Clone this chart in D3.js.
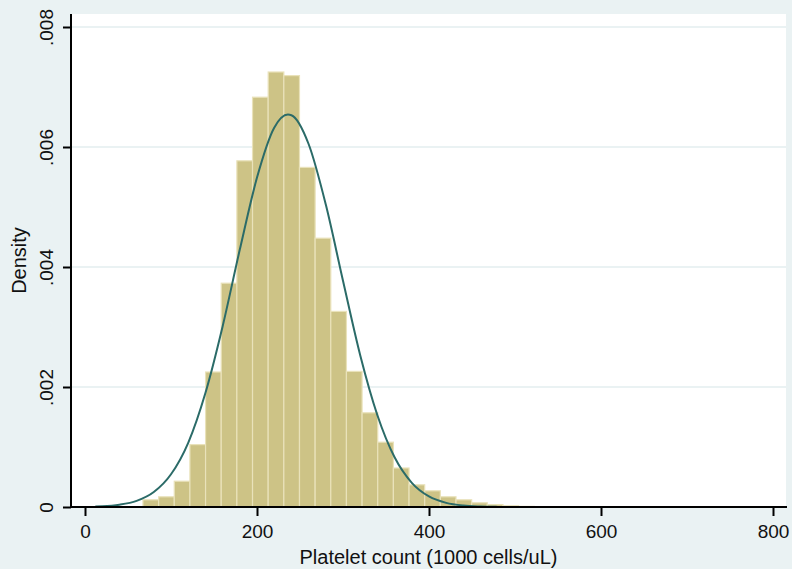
<!DOCTYPE html>
<html>
<head>
<meta charset="utf-8">
<script src="https://cdn.jsdelivr.net/npm/d3@7"></script>
<style>
  body { margin: 0; background: #eaf2f3; }
  text { font-family: "Liberation Sans", Arial, sans-serif; fill: #111; }
</style>
</head>
<body>
<div id="chart"></div>
<script>

// histogram bins (lower edge of first bin, width, density per bin)
var binStart = 67.4;
var binWidth = 18.2;
var densities = [0.00012, 0.00017, 0.00043, 0.00104, 0.00225, 0.00373, 0.00577,
    0.00683, 0.00725, 0.00719, 0.00566, 0.00448, 0.00326, 0.00226, 0.00157,
    0.00108, 0.00065, 0.00037, 0.00027, 0.00017, 0.00012, 0.00007, 0.00004,
    0.00002, 0.00001];

// normal overlay
var curveX = [12, 20, 40, 60, 80, 100, 120, 140, 160, 180, 200, 220, 236, 240, 260,
    280, 300, 320, 340, 360, 380, 400, 420, 440, 460, 480, 500, 600, 700, 800];
var curveY = [0.000008, 0.000012, 0.000038, 0.000102, 0.000249, 0.000545, 0.00107,
    0.00190, 0.00301, 0.00429, 0.00549, 0.00632, 0.00654, 0.00653, 0.00605,
    0.00504, 0.00377, 0.00253, 0.00153, 0.000828, 0.000403, 0.000176, 0.000069,
    0.000024, 0.000008, 0.000002, 0, 0, 0, 0];

var xTicks = [0, 200, 400, 600, 800];
var yTicks = [0, 0.002, 0.004, 0.006, 0.008];

var width = 792,
    height = 569;

var svg = d3.select("#chart")
    .append("svg")
    .attr("width", width)
    .attr("height", height);

svg.append("rect")
    .attr("width", width)
    .attr("height", height)
    .attr("fill", "#eaf2f3");

/* SCALES */
var x = d3.scaleLinear().domain([0, 800]).range([85, 773]);
var y = d3.scaleLinear().domain([0, 0.008]).range([507, 27]);

var plotL = 71, plotR = 786, plotT = 14, plotB = 507;

// plot region
svg.append("rect")
    .attr("x", plotL)
    .attr("y", plotT)
    .attr("width", plotR - plotL)
    .attr("height", plotB - plotT)
    .attr("fill", "#ffffff");

// gridlines
svg.append("g")
    .selectAll("line")
    .data(yTicks.slice(1))
    .enter()
    .append("line")
        .attr("x1", plotL)
        .attr("x2", plotR)
        .attr("y1", d => y(d))
        .attr("y2", d => y(d))
        .attr("stroke", "#eaf2f3")
        .attr("stroke-width", 2);

/* BARS */
var bins = densities.map((d, i) => ({
    x0: binStart + i * binWidth,
    x1: binStart + (i + 1) * binWidth,
    d: d
}));

svg.append("g")
    .selectAll("rect")
    .data(bins)
    .enter()
    .append("rect")
        .attr("x", d => x(d.x0))
        .attr("width", d => x(d.x1) - x(d.x0))
        .attr("y", d => y(d.d))
        .attr("height", d => y(0) - y(d.d))
        .attr("fill", "#cdc386")
        .attr("stroke", "#e9e2ba")
        .attr("stroke-width", 1.2);

/* NORMAL CURVE */
var line = d3.line()
    .x(d => x(d[0]))
    .y(d => y(d[1]))
    .curve(d3.curveMonotoneX);

svg.append("path")
    .datum(curveX.map((v, i) => [v, curveY[i]]))
    .attr("d", line)
    .attr("fill", "none")
    .attr("stroke", "#2b6b68")
    .attr("stroke-width", 2);

/* AXES */
var xAxis = svg.append("g")
    .attr("transform", `translate(0,${plotB})`)
    .call(d3.axisBottom(x).tickValues(xTicks).tickSize(9).tickSizeOuter(0).tickPadding(6));

xAxis.select(".domain").attr("d", `M${plotL},0H${plotR + 1}`).attr("stroke", "#000").attr("stroke-width", 2);
xAxis.selectAll(".tick line").attr("stroke", "#000").attr("stroke-width", 2);
xAxis.selectAll(".tick text")
    .attr("y", 31)
    .attr("dy", 0)
    .style("font-size", "19px");

var yAxis = svg.append("g")
    .attr("transform", `translate(${plotL},0)`)
    .call(d3.axisLeft(y).tickValues(yTicks).tickSize(8).tickSizeOuter(0)
        .tickFormat(d => d === 0 ? "0" : d3.format(".3f")(d).replace(/^0/, "")));

yAxis.select(".domain").attr("d", `M0,${plotT}V${plotB + 1}`).attr("stroke", "#000").attr("stroke-width", 2);
yAxis.selectAll(".tick line").attr("stroke", "#000").attr("stroke-width", 2);
yAxis.selectAll(".tick text")
    .attr("transform", "rotate(-90)")
    .attr("x", 0)
    .attr("y", -18)
    .attr("dy", 0)
    .attr("text-anchor", "middle")
    .style("font-size", "19px");

/* TITLES */
svg.append("text")
    .attr("x", (plotL + plotR) / 2)
    .attr("y", 564)
    .attr("text-anchor", "middle")
    .style("font-size", "20px")
    .text("Platelet count (1000 cells/uL)");

svg.append("text")
    .attr("transform", `translate(26,${(plotT + plotB) / 2}) rotate(-90)`)
    .attr("text-anchor", "middle")
    .style("font-size", "20px")
    .text("Density");

</script>
</body>
</html>
